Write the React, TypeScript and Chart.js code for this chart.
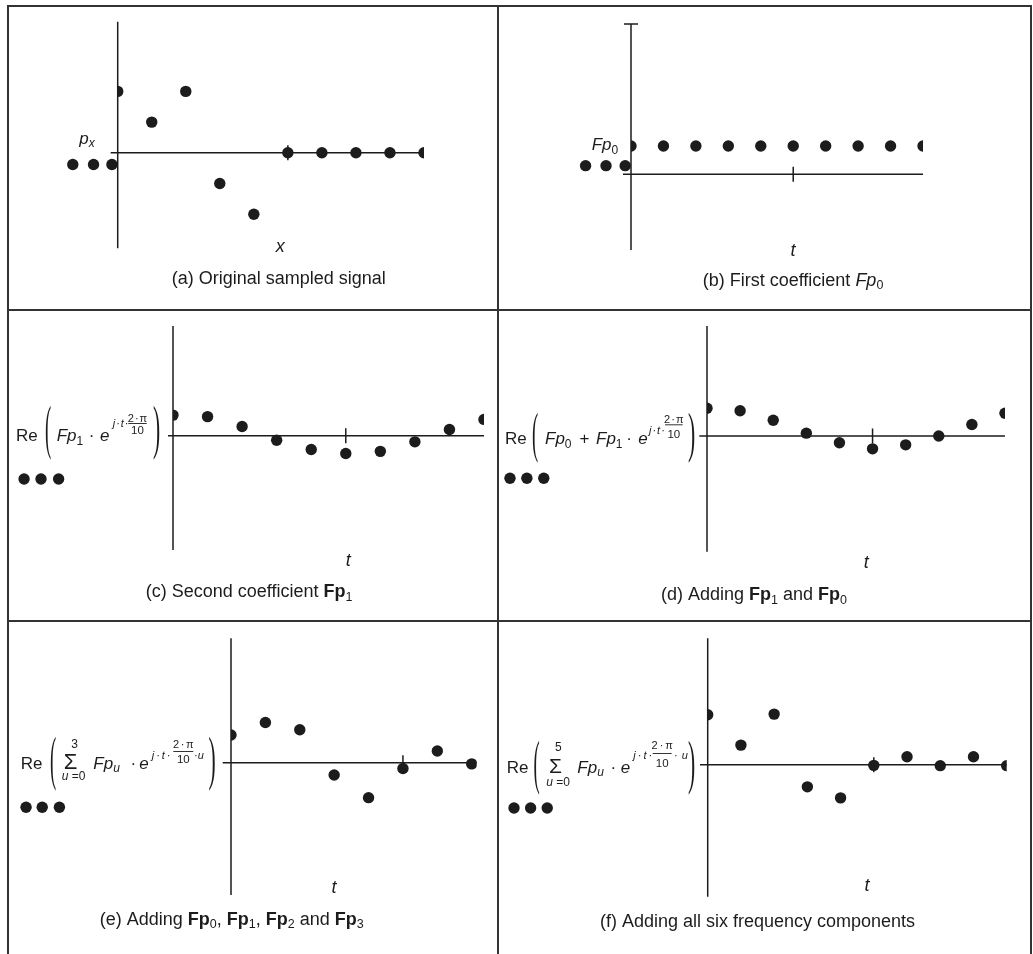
import React, { useEffect, useRef } from 'react';
import { Chart, registerables } from 'chart.js';

Chart.register(...registerables);

const W = 1033;
const H = 954;
const INK = '#1c1c1c';
const FAM = '"Liberation Sans", Arial, Helvetica, sans-serif';
const SERIF = '"Liberation Serif", "Times New Roman", serif';

// ---------------- data ----------------
const sampleT = [0, 1, 2, 3, 4, 5, 6, 7, 8, 9];
const sampleT8 = [0, 1, 2, 3, 4, 5, 6, 7];
const originalSignal = [2, 1, 2, -1, -2, 0, 0, 0, 0, 0];
const firstCoefficient = [0.92, 0.92, 0.92, 0.92, 0.92, 0.92, 0.92, 0.92, 0.92, 0.92];
const secondCoefficient = [0.67, 0.62, 0.3, -0.15, -0.45, -0.58, -0.51, -0.2, 0.2, 0.53];
const sumFp0Fp1 = [0.9, 0.82, 0.51, 0.09, -0.22, -0.42, -0.29, 0.0, 0.37, 0.74];
const sumFp0toFp3 = [0.9, 1.31, 1.07, -0.4, -1.14, -0.19, 0.38, -0.04];
const sumAllSix = [1.63, 0.64, 1.65, -0.72, -1.08, -0.02, 0.26, -0.03, 0.26, -0.03];

// "..." dots (periodic extension) in each panel's own axis units
const dotsAX = [-1.32, -0.71, -0.17];
const dotsAY = -0.38;
const dotsBX = [-1.4, -0.77, -0.18];
const dotsBY = 0.28;
const dotsCX = [-4.31, -3.82, -3.31];
const dotsCY = -1.41;
const dotsDX = [-5.95, -5.44, -4.93];
const dotsDY = -1.38;
const dotsEX = [-5.96, -5.49, -4.99];
const dotsEY = -1.45;
const dotsFX = [-5.83, -5.33, -4.83];
const dotsFY = -1.41;

// axis extents (value units)
const yRangeA = [-3.11, 4.27];
const yRangeB = [-2.47, 4.9];
const yRangeC = [-3.72, 3.57];
const yRangeD = [-3.77, 3.58];
const yRangeE = [-4.31, 4.05];
const yRangeF = [-4.3, 4.12];
const xMaxFull = 9;
const xMaxE = 7.145;
const markedT = 5;

const POINT_R = 5.7;

// ---------------- text helpers ----------------
type Seg = { s: string; size: number; it?: boolean; b?: boolean; dy?: number; ls?: number };

function fontOf(sg: Seg) {
  return `${sg.it ? 'italic ' : ''}${sg.b ? 'bold ' : ''}${sg.size}px ${FAM}`;
}
function setSeg(ctx: any, sg: Seg) {
  ctx.font = fontOf(sg);
  ctx.letterSpacing = `${sg.ls || 0}px`;
}
function segsWidth(ctx: any, segs: Seg[]) {
  let w = 0;
  for (const sg of segs) {
    setSeg(ctx, sg);
    w += ctx.measureText(sg.s).width - (sg.ls || 0);
  }
  return w;
}
function drawSegs(ctx: any, x: number, y: number, segs: Seg[]) {
  for (const sg of segs) {
    setSeg(ctx, sg);
    ctx.fillText(sg.s, x, y + (sg.dy || 0));
    x += ctx.measureText(sg.s).width - (sg.ls || 0);
  }
  ctx.letterSpacing = '0px';
  return x;
}
function drawCentered(ctx: any, cx: number, y: number, segs: Seg[]) {
  const w = segsWidth(ctx, segs);
  drawSegs(ctx, cx - w / 2, y, segs);
}
function bigParen(ctx: any, ch: string, x: number, top: number, bottom: number, width: number) {
  ctx.save();
  ctx.font = `20px ${SERIF}`;
  ctx.letterSpacing = '0px';
  const m = ctx.measureText(ch);
  const asc = m.actualBoundingBoxAscent;
  const desc = m.actualBoundingBoxDescent;
  const inkW = m.actualBoundingBoxLeft + m.actualBoundingBoxRight;
  const sy = (bottom - top) / (asc + desc);
  const sx = width / inkW;
  ctx.translate(x, top);
  ctx.scale(sx, sy);
  ctx.fillText(ch, m.actualBoundingBoxLeft, asc);
  ctx.restore();
}
function hbar(ctx: any, x1: number, x2: number, y: number) {
  ctx.save();
  ctx.strokeStyle = INK;
  ctx.lineWidth = 0.9;
  ctx.beginPath();
  ctx.moveTo(x1, y);
  ctx.lineTo(x2, y);
  ctx.stroke();
  ctx.restore();
}
const F = (s: string, extra: Partial<Seg> = {}): Seg => ({ s, size: 17, ...extra });
const sub = (s: string, it = false): Seg => ({ s, size: 12, dy: 3.5, it });
const CAP = 18;
const cap = (s: string, extra: Partial<Seg> = {}): Seg => ({ s, size: CAP, ...extra });
const capSub = (s: string): Seg => ({ s, size: 12.5, dy: 3.5 });

// ---------------- panels ----------------
type Panel = {
  id: string;
  t: number[];
  v: number[];
  dotX: number[];
  dotY: number;
  xMax: number;
  yRange: number[];
  area: number[]; // left, top, right, bottom (page pixels)
  overhang: number;
  cap?: boolean;
  texts: (ctx: any) => void;
};

const panels: Panel[] = [
  {
    id: 'a', t: sampleT, v: originalSignal, dotX: dotsAX, dotY: dotsAY, xMax: xMaxFull, yRange: yRangeA,
    area: [117.7, 21.7, 424, 248.3], overhang: 7,
    texts: (ctx) => {
      drawSegs(ctx, 79.3, 143.5, [F('p', { it: true }), { s: 'x', size: 12, it: true, dy: 3.5 }]);
      drawCentered(ctx, 280.3, 252, [{ s: 'x', size: 18, it: true }]);
      drawCentered(ctx, 278.7, 283.5, [cap('(a) Original sampled signal')]);
    },
  },
  {
    id: 'b', t: sampleT, v: firstCoefficient, dotX: dotsBX, dotY: dotsBY, xMax: xMaxFull, yRange: yRangeB,
    area: [631, 24, 923, 250], overhang: 8, cap: true,
    texts: (ctx) => {
      drawSegs(ctx, 591.7, 150, [F('Fp', { it: true }), sub('0')]);
      drawCentered(ctx, 793, 256, [{ s: 't', size: 18, it: true }]);
      drawCentered(ctx, 793, 285.5, [cap('(b) First coefficient '), cap('Fp', { it: true }), capSub('0')]);
    },
  },
  {
    id: 'c', t: sampleT, v: secondCoefficient, dotX: dotsCX, dotY: dotsCY, xMax: xMaxFull, yRange: yRangeC,
    area: [173, 326, 484, 550], overhang: 5,
    texts: (ctx) => {
      const B = 441;
      drawSegs(ctx, 16, B, [F('Re')]);
      bigParen(ctx, '(', 45, 402, 462, 6.5);
      drawSegs(ctx, 56.7, B, [F('Fp', { it: true }), sub('1')]);
      drawCentered(ctx, 91.7, B, [F('\u00b7')]);
      drawSegs(ctx, 100, B, [F('e', { it: true })]);
      drawSegs(ctx, 112.7, B - 14, [{ s: 'j\u00b7t\u00b7', size: 11, it: true, ls: 1 }]);
      drawCentered(ctx, 137.5, B - 19.5, [{ s: '2\u00b7\u03c0', size: 11, ls: 1 }]);
      hbar(ctx, 128.3, 146.7, B - 17.5);
      drawCentered(ctx, 137.5, B - 7, [{ s: '10', size: 11.5 }]);
      bigParen(ctx, ')', 153, 402, 462, 6.5);
      drawCentered(ctx, 348.3, 566, [{ s: 't', size: 18, it: true }]);
      drawCentered(ctx, 249, 597, [cap('(c) Second coefficient '), cap('Fp', { b: true }), capSub('1')]);
    },
  },
  {
    id: 'd', t: sampleT, v: sumFp0Fp1, dotX: dotsDX, dotY: dotsDY, xMax: xMaxFull, yRange: yRangeD,
    area: [707, 326, 1005, 551.7], overhang: 7.7,
    texts: (ctx) => {
      const B = 444;
      drawSegs(ctx, 505, B, [F('Re')]);
      bigParen(ctx, '(', 532, 410, 465, 6.5);
      drawSegs(ctx, 545, B, [F('Fp', { it: true }), sub('0')]);
      drawCentered(ctx, 584.5, B, [F('+')]);
      drawSegs(ctx, 596, B, [F('Fp', { it: true }), sub('1')]);
      drawCentered(ctx, 629, B, [F('\u00b7')]);
      drawSegs(ctx, 638.3, B, [F('e', { it: true })]);
      drawSegs(ctx, 649, B - 10, [{ s: 'j\u00b7t\u00b7', size: 11, it: true, ls: 1 }]);
      drawCentered(ctx, 673.8, B - 21.5, [{ s: '2\u00b7\u03c0', size: 11, ls: 1 }]);
      hbar(ctx, 665, 682.7, B - 19.2);
      drawCentered(ctx, 673.8, B - 6, [{ s: '10', size: 11.5 }]);
      bigParen(ctx, ')', 688, 410, 465, 6.5);
      drawCentered(ctx, 866.3, 568, [{ s: 't', size: 18, it: true }]);
      drawCentered(ctx, 754, 600, [
        cap('(d) Adding '), cap('Fp', { b: true }), capSub('1'), cap(' and '), cap('Fp', { b: true }), capSub('0'),
      ]);
    },
  },
  {
    id: 'e', t: sampleT8, v: sumFp0toFp3, dotX: dotsEX, dotY: dotsEY, xMax: xMaxE, yRange: yRangeE,
    area: [231, 638.3, 476.7, 895], overhang: 8.3,
    texts: (ctx) => {
      const B = 769;
      drawSegs(ctx, 20.7, B, [F('Re')]);
      bigParen(ctx, '(', 50, 733, 793, 6.5);
      drawCentered(ctx, 70.5, B - 0.5, [{ s: '\u03a3', size: 22 }]);
      drawCentered(ctx, 74.5, B - 21, [{ s: '3', size: 12 }]);
      drawCentered(ctx, 73.5, B + 11, [{ s: 'u', size: 12, it: true }, { s: ' =0', size: 12 }]);
      drawSegs(ctx, 93.3, B, [F('Fp', { it: true }), { s: 'u', size: 12, it: true, dy: 3 }]);
      drawCentered(ctx, 133.3, B, [F('\u00b7')]);
      drawSegs(ctx, 139.3, B, [F('e', { it: true })]);
      drawSegs(ctx, 151.7, B - 10, [{ s: 'j\u00b7t\u00b7', size: 11, it: true, ls: 2 }]);
      drawCentered(ctx, 183.3, B - 21.5, [{ s: '2\u00b7\u03c0', size: 11, ls: 1.5 }]);
      hbar(ctx, 173.3, 193.3, B - 17.5);
      drawCentered(ctx, 183.3, B - 6, [{ s: '10', size: 11.5 }]);
      drawSegs(ctx, 194, B - 10, [{ s: '\u00b7', size: 11, ls: 2 }, { s: 'u', size: 11, it: true }]);
      bigParen(ctx, ')', 208.5, 733, 793, 6.5);
      drawCentered(ctx, 334, 893, [{ s: 't', size: 18, it: true }]);
      drawCentered(ctx, 231.7, 924.5, [
        cap('(e) Adding '), cap('Fp', { b: true }), capSub('0'), cap(', '), cap('Fp', { b: true }), capSub('1'),
        cap(', '), cap('Fp', { b: true }), capSub('2'), cap(' and '), cap('Fp', { b: true }), capSub('3'),
      ]);
    },
  },
  {
    id: 'f', t: sampleT, v: sumAllSix, dotX: dotsFX, dotY: dotsFY, xMax: xMaxFull, yRange: yRangeF,
    area: [707.7, 638.3, 1006.7, 896.7], overhang: 7.7,
    texts: (ctx) => {
      const B = 773;
      drawSegs(ctx, 506.7, B, [F('Re')]);
      bigParen(ctx, '(', 533.5, 736.7, 796.7, 6.5);
      drawCentered(ctx, 555.6, B, [{ s: '\u03a3', size: 21 }]);
      drawCentered(ctx, 558.3, B - 22.3, [{ s: '5', size: 12 }]);
      drawCentered(ctx, 558, B + 12.7, [{ s: 'u', size: 12, it: true }, { s: ' =0', size: 12 }]);
      drawSegs(ctx, 577.3, B, [F('Fp', { it: true }), { s: 'u', size: 12, it: true, dy: 3 }]);
      drawCentered(ctx, 613.3, B, [F('\u00b7')]);
      drawSegs(ctx, 620.7, B, [F('e', { it: true })]);
      drawSegs(ctx, 633.3, B - 14, [{ s: 'j\u00b7t\u00b7', size: 11, it: true, ls: 2 }]);
      drawCentered(ctx, 662.2, B - 23.7, [{ s: '2\u00b7\u03c0', size: 11, ls: 2 }]);
      hbar(ctx, 652.7, 671.7, B - 19.5);
      drawCentered(ctx, 662.2, B - 5.7, [{ s: '10', size: 11.5 }]);
      drawSegs(ctx, 674, B - 14, [{ s: '\u00b7 ', size: 11, ls: 1 }, { s: 'u', size: 11, it: true }]);
      bigParen(ctx, ')', 688, 736.7, 796.7, 6.5);
      drawCentered(ctx, 867, 890.5, [{ s: 't', size: 18, it: true }]);
      drawCentered(ctx, 757.5, 926.5, [cap('(f) Adding all six frequency components')]);
    },
  },
];

function makePlugin(p: Panel) {
  return {
    id: 'axes_' + p.id,
    beforeDatasetsDraw(chart: any) {
      const { ctx, chartArea: a, scales } = chart;
      const y0 = scales.y.getPixelForValue(0);
      const xt = scales.x.getPixelForValue(markedT);
      ctx.save();
      ctx.strokeStyle = INK;
      ctx.lineWidth = 1.5;
      ctx.beginPath();
      ctx.moveTo(a.left, a.top);
      ctx.lineTo(a.left, a.bottom);
      ctx.moveTo(a.left - p.overhang, y0);
      ctx.lineTo(a.right, y0);
      ctx.moveTo(xt, y0 - 7.5);
      ctx.lineTo(xt, y0 + 7.5);
      if (p.cap) {
        ctx.moveTo(a.left - 7, a.top);
        ctx.lineTo(a.left + 7, a.top);
      }
      ctx.stroke();
      ctx.restore();
    },
    afterDatasetsDraw(chart: any) {
      // periodic-extension "..." marks, placed through the chart's own scales
      const { ctx, scales } = chart;
      ctx.save();
      ctx.fillStyle = INK;
      const py = scales.y.getPixelForValue(p.dotY);
      for (const dx of p.dotX) {
        const px = scales.x.getPixelForValue(dx);
        ctx.beginPath();
        ctx.arc(px, py, POINT_R, 0, Math.PI * 2);
        ctx.fill();
      }
      ctx.restore();
    },
    afterDraw(chart: any) {
      const ctx = chart.ctx;
      ctx.save();
      ctx.fillStyle = INK;
      ctx.textBaseline = 'alphabetic';
      ctx.textAlign = 'left';
      p.texts(ctx);
      ctx.restore();
    },
  };
}

function PanelChart({ p }: { p: Panel }) {
  const ref = useRef<HTMLCanvasElement>(null);
  useEffect(() => {
    const [l, t, r, b] = p.area;
    const chart = new Chart(ref.current as HTMLCanvasElement, {
      type: 'scatter',
      data: {
        datasets: [
          {
            data: p.t.map((x, i) => ({ x, y: p.v[i] })),
            pointRadius: POINT_R,
            pointHoverRadius: POINT_R,
            pointBackgroundColor: INK,
            pointBorderWidth: 0,
            clip: 0,
          } as any,
        ],
      },
      options: {
        responsive: false,
        maintainAspectRatio: false,
        animation: false,
        devicePixelRatio: 1,
        events: [],
        layout: { padding: { left: l, top: t, right: W - r, bottom: H - b } },
        scales: {
          x: { type: 'linear', min: 0, max: p.xMax, display: false },
          y: { type: 'linear', min: p.yRange[0], max: p.yRange[1], display: false },
        },
        plugins: { legend: { display: false }, tooltip: { enabled: false }, title: { display: false } },
      },
      plugins: [makePlugin(p)],
    });
    return () => chart.destroy();
  }, [p]);
  return (
    <canvas
      ref={ref}
      width={W}
      height={H}
      style={{ position: 'absolute', left: 0, top: 0, width: W, height: H }}
    />
  );
}

const lineStyle = (left: number, top: number, width: number, height: number): React.CSSProperties => ({
  position: 'absolute', left, top, width, height, background: '#333',
});

export default function App() {
  return (
    <div style={{ position: 'absolute', left: 0, top: 0, width: W, height: H, overflow: 'hidden', background: '#fff' }}>
      <div style={lineStyle(7, 5, 1025, 2)} />
      <div style={lineStyle(7, 5, 2, H - 5)} />
      <div style={lineStyle(497, 5, 2, H - 5)} />
      <div style={lineStyle(1030, 5, 2, H - 5)} />
      <div style={lineStyle(7, 309, 1025, 2)} />
      <div style={lineStyle(7, 620, 1025, 2)} />
      {panels.map((p) => (
        <PanelChart key={p.id} p={p} />
      ))}
    </div>
  );
}
